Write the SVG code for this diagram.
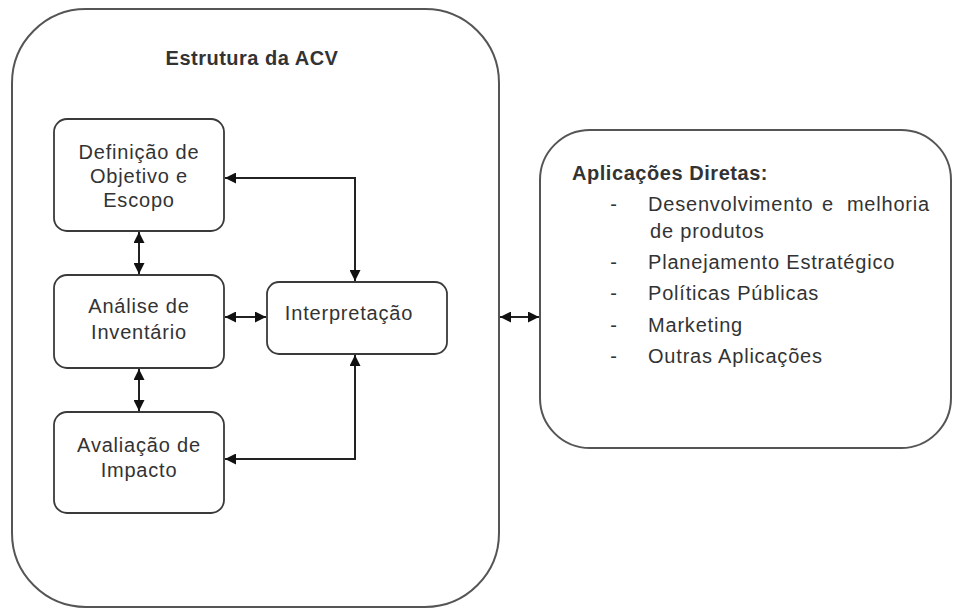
<svg xmlns="http://www.w3.org/2000/svg" width="953" height="609" viewBox="0 0 953 609">
<style>
.box{fill:#fff;stroke:#3a3a3a;stroke-width:1.8}
.big{fill:#fff;stroke:#555;stroke-width:2}
.t{font-family:"Liberation Sans",Arial,sans-serif;font-size:20px;fill:#333;letter-spacing:0.8px}
.c{text-anchor:middle}
.b{font-weight:bold;letter-spacing:0.5px}
.con{fill:none;stroke:#222;stroke-width:2}
</style>
<defs>
<marker id="ah" viewBox="0 0 10 10" refX="10" refY="5" markerWidth="11" markerHeight="11" markerUnits="userSpaceOnUse" orient="auto-start-reverse">
<path d="M0,0 L10,5 L0,10 z" fill="#111"/>
</marker>
</defs>
<rect width="953" height="609" fill="#fff"/>
<g id="estrutura">
<rect class="big" x="12" y="9" width="487" height="598" rx="74" ry="74"/>
<text class="t b c" x="252" y="65">Estrutura da ACV</text>
</g>
<g id="aplicacoes">
<rect class="big" x="540" y="130" width="411" height="318" rx="50" ry="50"/>
<text class="t b" x="572" y="180" style="letter-spacing:0.55px">Aplicações Diretas:</text>
<text class="t c" x="614" y="211">-</text>
<text class="t" x="648" y="211">Desenvolvimento</text>
<text class="t" x="822" y="211">e</text>
<text class="t" x="930" y="211" text-anchor="end">melhoria</text>
<text class="t" x="650" y="238">de produtos</text>
<text class="t c" x="614" y="269">-</text>
<text class="t" x="648" y="269">Planejamento Estratégico</text>
<text class="t c" x="614" y="300">-</text>
<text class="t" x="648" y="300">Políticas Públicas</text>
<text class="t c" x="614" y="332">-</text>
<text class="t" x="648" y="332">Marketing</text>
<text class="t c" x="614" y="363">-</text>
<text class="t" x="648" y="363">Outras Aplicações</text>
</g>
<g id="definicao">
<rect class="box" x="54" y="119" width="170" height="112" rx="13" ry="13"/>
<text class="t c" x="139" y="159">Definição de</text>
<text class="t c" x="139" y="183">Objetivo e</text>
<text class="t c" x="139" y="207">Escopo</text>
</g>
<g id="analise">
<rect class="box" x="54" y="275" width="170" height="93" rx="13" ry="13"/>
<text class="t c" x="139" y="313">Análise de</text>
<text class="t c" x="139" y="339">Inventário</text>
</g>
<g id="avaliacao">
<rect class="box" x="54" y="412" width="170" height="101" rx="13" ry="13"/>
<text class="t c" x="139" y="452">Avaliação de</text>
<text class="t c" x="139" y="477">Impacto</text>
</g>
<g id="interpretacao">
<rect class="box" x="267" y="282" width="180" height="72" rx="12" ry="12"/>
<text class="t c" x="349" y="320">Interpretação</text>
</g>
<g id="connectors">
<path class="con" d="M139,232 L139,274" marker-start="url(#ah)" marker-end="url(#ah)"/>
<path class="con" d="M139,369 L139,411" marker-start="url(#ah)" marker-end="url(#ah)"/>
<path class="con" d="M225,317 L266,317" marker-start="url(#ah)" marker-end="url(#ah)"/>
<path class="con" d="M355,281 L355,178 L225,178" marker-start="url(#ah)" marker-end="url(#ah)"/>
<path class="con" d="M355,355 L355,459 L225,459" marker-start="url(#ah)" marker-end="url(#ah)"/>
<path class="con" d="M500,317 L539,317" marker-start="url(#ah)" marker-end="url(#ah)"/>
</g>
</svg>
